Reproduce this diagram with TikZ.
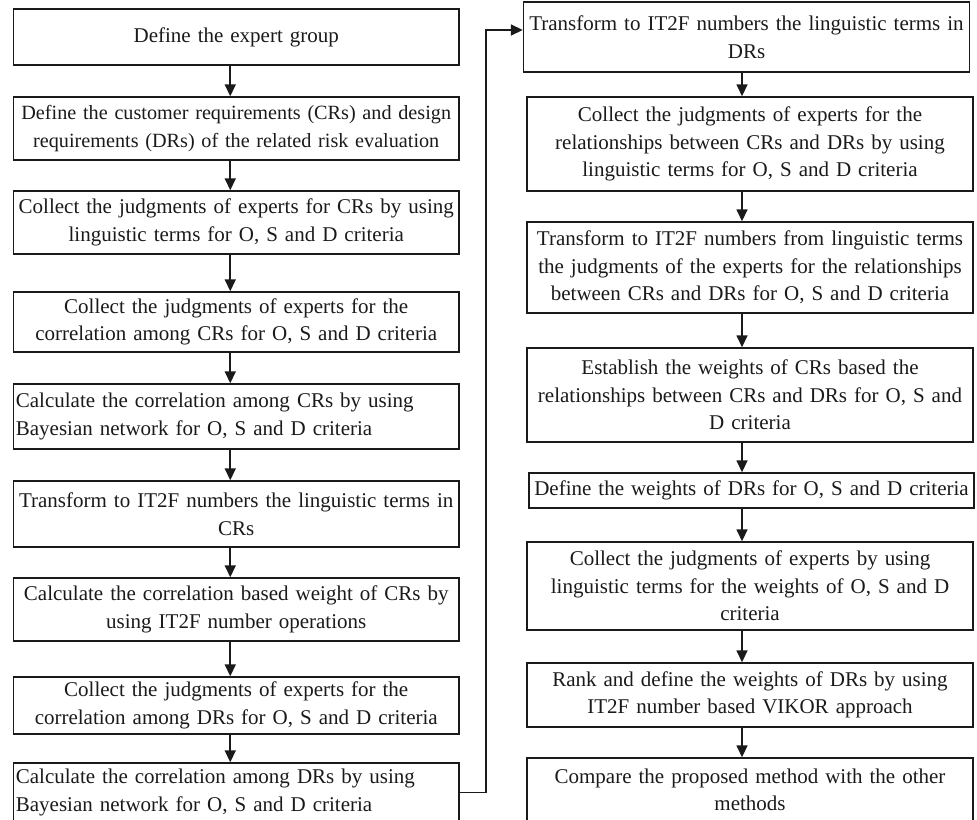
\documentclass[tikz,border=0pt]{standalone}
\usepackage{fontspec}
\setmainfont{Liberation Serif}
\usepackage{tikz}
\usetikzlibrary{arrows.meta,positioning,calc}
\definecolor{fink}{HTML}{1A1A1A}
\tikzset{
  box/.style={draw=fink,text=fink,line width=0.7pt,inner xsep=1.2pt,inner ysep=0pt,align=center,font=\fontsize{10.5}{13.75}\selectfont},
  lbox/.style={box,text width=220.35pt,minimum width=222.75pt},
  rbox/.style={box,text width=220.6pt,minimum width=223pt},
  arr/.style={-{Triangle[length=6pt,width=5.5pt]},line width=0.8pt,draw=fink},
}
\begin{document}
\begin{tikzpicture}[x=0.5pt,y=-0.5pt]
  \useasboundingbox (0,0) rectangle (977,819);
  % left column
  \node[lbox,minimum height=28pt] (L1) at (236.25,37) {Define the expert group};
  \node[lbox,minimum height=31.5pt,font=\fontsize{10.1}{13.75}\selectfont] (L2) at (236.25,128.5) {\mbox{Define the customer requirements (CRs) and design}\\requirements (DRs) of the related risk evaluation};
  \node[lbox,minimum height=31.5pt] (L3) at (236.25,222.5) {Collect the judgments of experts for CRs by using\\linguistic terms for O, S and D criteria};
  \node[lbox,minimum height=30pt] (L4) at (236.25,322) {Collect the judgments of experts for the\\correlation among CRs for O, S and D criteria};
  \node[lbox,minimum height=32.5pt,align=left] (L5) at (236.25,416.5) {Calculate the correlation among CRs by using\\Bayesian network for O, S and D criteria};
  \node[lbox,minimum height=33pt] (L6) at (236.25,514) {Transform to IT2F numbers the linguistic terms in\\CRs};
  \node[lbox,minimum height=31.5pt] (L7) at (236.25,609.5) {Calculate the correlation based weight of CRs by\\using IT2F number operations};
  \node[lbox,minimum height=28.5pt] (L8) at (236.25,705.5) {Collect the judgments of experts for the\\correlation among DRs for O, S and D criteria};
  \node[lbox,minimum height=29.5pt,align=left] (L9) at (236.25,792.5) {Calculate the correlation among DRs by using\\Bayesian network for O, S and D criteria};
  % right column
  \node[rbox,minimum height=35pt] (R1) at (746.5,37) {Transform to IT2F numbers the linguistic terms in\\DRs};
  \node[rbox,minimum height=47pt] (R2) at (750,144) {Collect the judgments of experts for the\\relationships between CRs and DRs by using\\linguistic terms for O, S and D criteria};
  \node[rbox,minimum height=45.5pt] (R3) at (750,267.5) {Transform to IT2F numbers from linguistic terms\\the judgments of the experts for the relationships\\between CRs and DRs for O, S and D criteria};
  \node[rbox,minimum height=47pt] (R4) at (750,395) {Establish the weights of CRs based the\\relationships between CRs and DRs for O, S and\\D criteria};
  \node[rbox,minimum height=17.5pt,text width=220.1pt,minimum width=222.5pt] (R5) at (751.5,490.5) {Define the weights of DRs for O, S and D criteria};
  \node[rbox,minimum height=44pt] (R6) at (750,586) {Collect the judgments of experts by using\\linguistic terms for the weights of O, S and D\\criteria};
  \node[rbox,minimum height=32pt] (R7) at (750,695) {Rank and define the weights of DRs by using\\IT2F number based VIKOR approach};
  \node[rbox,minimum height=32pt] (R8) at (750,790) {Compare the proposed method with the other\\methods};
  % flow
  \foreach \i [evaluate=\i as \j using int(\i+1)] in {1,...,8} \draw[arr] ([xshift=-3pt]L\i.south) -- ([xshift=-3pt]L\i.south |- L\j.north);
  \foreach \i [evaluate=\i as \j using int(\i+1)] in {1,...,7} \draw[arr] ([xshift=-4pt]R2.south |- R\i.south) -- ([xshift=-4pt]R2.south |- R\j.north);
  \coordinate (turn) at (486,30);
  \draw[arr] (L9.east) -| (turn) -- (turn -| R1.west);
\end{tikzpicture}
\end{document}
